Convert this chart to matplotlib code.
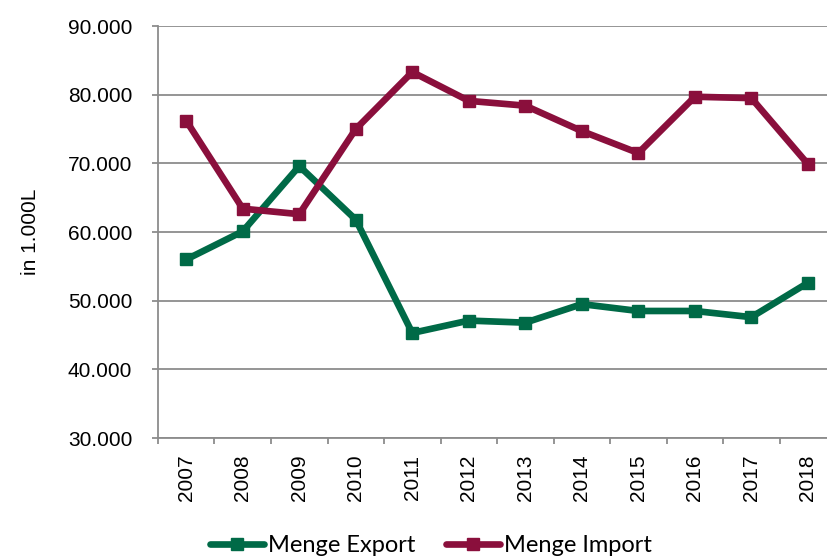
import matplotlib.pyplot as plt
from matplotlib.lines import Line2D

years = ['2007', '2008', '2009', '2010', '2011', '2012',
         '2013', '2014', '2015', '2016', '2017', '2018']
export = [56.0, 60.1, 69.6, 61.8, 45.3, 47.1, 46.8, 49.5, 48.5, 48.5, 47.6, 52.6]
imports = [76.2, 63.4, 62.6, 75.0, 83.3, 79.1, 78.4, 74.7, 71.5, 79.7, 79.5, 69.9]
y_ticks = [30, 40, 50, 60, 70, 80, 90]

green = '#006A47'
maroon = '#8A0F3C'
grid_col = '#8C8C8C'

plt.rcParams['font.family'] = ['Liberation Sans', 'DejaVu Sans']

fig = plt.figure(figsize=(8.28, 5.56), dpi=100)
ax = fig.add_axes([0.1908, 0.2122, 0.819, 0.741])

x = list(range(len(years)))
ax.plot(x, export, color=green, lw=4.8, marker='s', ms=8, zorder=3)
ax.plot(x, imports, color=maroon, lw=4.8, marker='s', ms=8, zorder=3)

ax.set_ylim(30, 90)
ax.set_xlim(-0.5, 11.5)
ax.set_yticks(y_ticks)
ax.set_yticklabels([f'{v}.000' for v in y_ticks], fontsize=15)
ax.yaxis.grid(True, color=grid_col, lw=1.3)
ax.set_axisbelow(True)

ax.set_xticks(x)
ax.set_xticklabels(years, rotation=90, fontsize=15)
ax.set_xticks([i - 0.5 for i in range(len(years) + 1)], minor=True)
ax.tick_params(axis='x', which='major', length=0, pad=12)
ax.tick_params(axis='x', which='minor', length=4.5, color=grid_col, width=1.3)
ax.tick_params(axis='y', length=4.5, color=grid_col, width=1.3, pad=14)

for side in ['top', 'right']:
    ax.spines[side].set_visible(False)
for side in ['left', 'bottom']:
    ax.spines[side].set_color(grid_col)
    ax.spines[side].set_linewidth(1.3)

ax.set_ylabel('in 1.000L', fontsize=15, labelpad=20)

handles = [Line2D([], [], color=green, lw=4.8, marker='s', ms=8, solid_capstyle='round'),
           Line2D([], [], color=maroon, lw=4.8, marker='s', ms=8, solid_capstyle='round')]
fig.legend(handles, ['Menge Export', 'Menge Import'], loc='center',
           bbox_to_anchor=(0.52, 0.018), ncol=2, frameon=False,
           prop={'family': 'Lato', 'size': 17}, handlelength=2.3,
           handletextpad=0.15, columnspacing=1.3)

fig.savefig('out.png', dpi=100)
